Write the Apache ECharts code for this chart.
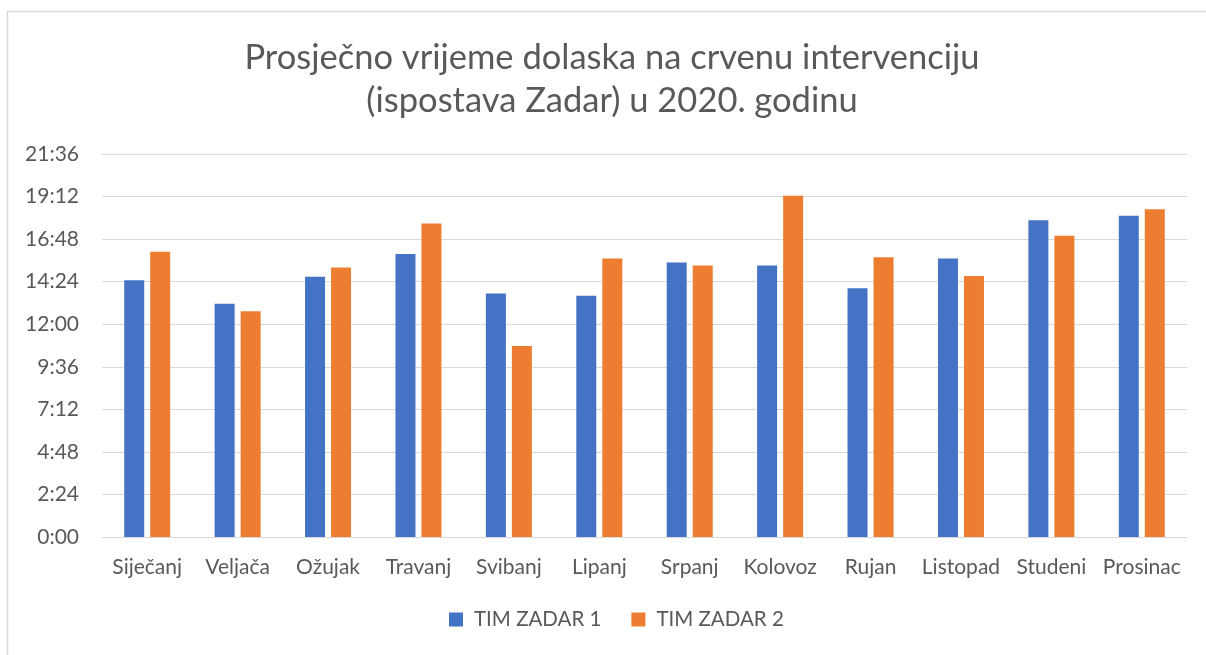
<!DOCTYPE html>
<html>
<head>
<meta charset="utf-8">
<script src="https://cdn.jsdelivr.net/npm/echarts@6/dist/echarts.min.js"></script>
<style>
  html, body { margin: 0; padding: 0; background: #fff; }
  #chart { width: 1206px; height: 655px; }
</style>
</head>
<body>
<div id="chart"></div>
<script>
  // months (categories)
  var months = ['Siječanj', 'Veljača', 'Ožujak', 'Travanj', 'Svibanj', 'Lipanj',
    'Srpanj', 'Kolovoz', 'Rujan', 'Listopad', 'Studeni', 'Prosinac']
  // average arrival time, in seconds
  var timZadar1 = [869, 789, 881, 958, 824, 816, 929, 919, 842, 942, 1072, 1087]
  var timZadar2 = [965, 764, 912, 1061, 646, 942, 919, 1155, 947, 883, 1019, 1109]
  var seriesNames = ['TIM ZADAR 1', 'TIM ZADAR 2']
  // y axis: 0:00 .. 21:36 every 2:24
  var yMax = 1296
  var yStep = 144

  var textColor = '#595959'
  var font = 'Lato'

  function fmtTime(v) {
    var m = Math.floor(v / 60)
    var s = Math.round(v % 60)
    return m + ':' + (s < 10 ? '0' + s : s)
  }

  var chart = echarts.init(document.getElementById('chart'))
  chart.setOption({
    animation: false,
    textStyle: { fontFamily: font },
    title: {
      text: 'Prosječno vrijeme dolaska na crvenu intervenciju\n(ispostava Zadar) u 2020. godinu',
      left: 607,
      textAlign: 'center',
      top: 31,
      textStyle: {
        color: textColor,
        fontFamily: font,
        fontWeight: 'normal',
        fontSize: 34.5,
        lineHeight: 43
      }
    },
    legend: {
      data: seriesNames,
      bottom: 20,
      left: 444,
      itemWidth: 14,
      itemHeight: 14,
      itemGap: 30,
      icon: 'rect',
      textStyle: { color: textColor, fontSize: 20.5, fontFamily: font, padding: [0, 0, 0, 6] }
    },
    grid: {
      left: 102,
      right: 19,
      top: 154,
      bottom: 118
    },
    xAxis: {
      type: 'category',
      data: months,
      axisLine: { show: true, lineStyle: { color: '#d9d9d9', width: 1 } },
      axisTick: { show: false },
      axisLabel: {
        color: textColor,
        fontSize: 21,
        fontFamily: font,
        margin: 20,
        interval: 0
      }
    },
    yAxis: {
      type: 'value',
      min: 0,
      max: yMax,
      interval: yStep,
      axisLine: { show: false },
      axisTick: { show: false },
      splitLine: { lineStyle: { color: '#d9d9d9', width: 1 } },
      axisLabel: {
        color: textColor,
        fontSize: 21,
        fontFamily: font,
        margin: 23,
        formatter: fmtTime
      }
    },
    series: [{
      name: seriesNames[0],
      type: 'bar',
      data: timZadar1,
      barWidth: 20,
      barGap: '30%',
      itemStyle: { color: '#4472C4' }
    }, {
      name: seriesNames[1],
      type: 'bar',
      data: timZadar2,
      barWidth: 20,
      barGap: '30%',
      itemStyle: { color: '#ED7D31' }
    }],
    graphic: [{
      type: 'polyline',
      silent: true,
      shape: { points: [[7.5, 655], [7.5, 11.5], [1206, 11.5]] },
      style: { stroke: '#d9d9d9', lineWidth: 1.5, fill: null }
    }]
  })
</script>
</body>
</html>
